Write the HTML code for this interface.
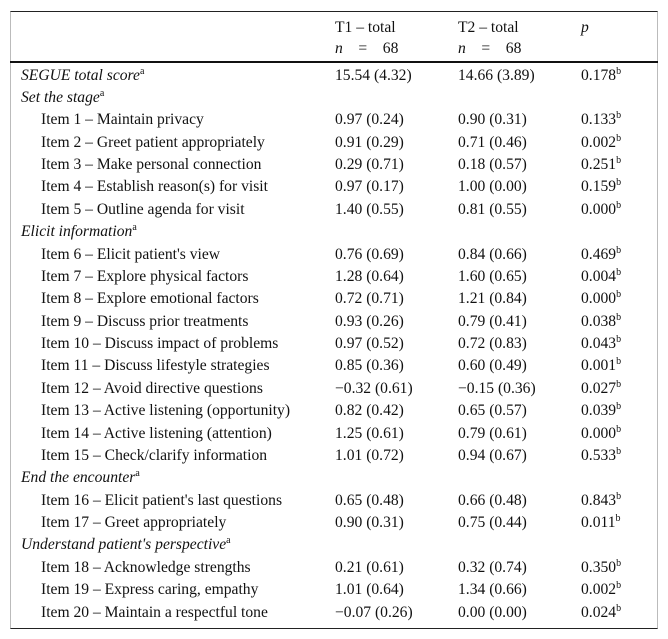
<!DOCTYPE html>
<html><head><meta charset="utf-8"><style>
body{margin:0;width:668px;height:639px;background:#fff;font-family:"Liberation Serif",serif;font-size:15.6px;color:#111;position:relative;overflow:hidden}
.box{position:absolute;left:10px;top:11px;width:646px;height:616px;border:1px solid #bbb;border-top:1px solid #222;border-bottom:1px solid #222}
.thick{position:absolute;left:10px;width:648px;top:61px;height:2px;background:#111}
.r{position:absolute;left:0;width:668px;height:22px;line-height:22px;white-space:nowrap}
.r span{position:absolute}
.c0{left:21px}.ci{left:41px}.c1{left:335px}.c2{left:458px}.c3{left:581px}
sup{font-size:10px;line-height:0;vertical-align:6px}
i{font-style:italic}
</style></head><body>
<div class="box"></div>
<div class="thick"></div>
<div class="r" style="top:17px"><span class="c1">T1 – total</span><span class="c2">T2 – total</span><span class="c3"><i>p</i></span></div>
<div class="r" style="top:38px"><span class="c1"><i>n</i>&nbsp;&nbsp;&nbsp;&nbsp;=&nbsp;&nbsp;&nbsp;&nbsp;68</span><span class="c2"><i>n</i>&nbsp;&nbsp;&nbsp;&nbsp;=&nbsp;&nbsp;&nbsp;&nbsp;68</span></div>
<div id="rows"></div>
<script>
const labels=[["SEGUE total score",1],["Set the stage",1],["Item 1 – Maintain privacy"],["Item 2 – Greet patient appropriately"],["Item 3 – Make personal connection"],["Item 4 – Establish reason(s) for visit"],["Item 5 – Outline agenda for visit"],["Elicit information",1],["Item 6 – Elicit patient's view"],["Item 7 – Explore physical factors"],["Item 8 – Explore emotional factors"],["Item 9 – Discuss prior treatments"],["Item 10 – Discuss impact of problems"],["Item 11 – Discuss lifestyle strategies"],["Item 12 – Avoid directive questions"],["Item 13 – Active listening (opportunity)"],["Item 14 – Active listening (attention)"],["Item 15 – Check/clarify information"],["End the encounter",1],["Item 16 – Elicit patient's last questions"],["Item 17 – Greet appropriately"],["Understand patient's perspective",1],["Item 18 – Acknowledge strengths"],["Item 19 – Express caring, empathy"],["Item 20 – Maintain a respectful tone"]];
const t1=["15.54 (4.32)","","0.97 (0.24)","0.91 (0.29)","0.29 (0.71)","0.97 (0.17)","1.40 (0.55)","","0.76 (0.69)","1.28 (0.64)","0.72 (0.71)","0.93 (0.26)","0.97 (0.52)","0.85 (0.36)","−0.32 (0.61)","0.82 (0.42)","1.25 (0.61)","1.01 (0.72)","","0.65 (0.48)","0.90 (0.31)","","0.21 (0.61)","1.01 (0.64)","−0.07 (0.26)"];
const t2=["14.66 (3.89)","","0.90 (0.31)","0.71 (0.46)","0.18 (0.57)","1.00 (0.00)","0.81 (0.55)","","0.84 (0.66)","1.60 (0.65)","1.21 (0.84)","0.79 (0.41)","0.72 (0.83)","0.60 (0.49)","−0.15 (0.36)","0.65 (0.57)","0.79 (0.61)","0.94 (0.67)","","0.66 (0.48)","0.75 (0.44)","","0.32 (0.74)","1.34 (0.66)","0.00 (0.00)"];
const pv=["0.178","","0.133","0.002","0.251","0.159","0.000","","0.469","0.004","0.000","0.038","0.043","0.001","0.027","0.039","0.000","0.533","","0.843","0.011","","0.350","0.002","0.024"];
const host=document.getElementById('rows');
labels.forEach((l,i)=>{
 const d=document.createElement('div');d.className='r';d.style.top=(64.5+i*22.38)+'px';
 
 
 const lab=l[1]?'<span class="c0"><i>'+l[0]+'</i><sup>a</sup></span>':'<span class="ci">'+l[0]+'</span>';
 d.innerHTML=lab+'<span class="c1">'+t1[i]+'</span><span class="c2">'+t2[i]+'</span><span class="c3">'+(pv[i]?pv[i]+'<sup>b</sup>':'')+'</span>';
 host.appendChild(d);
});
</script>
</body></html>
